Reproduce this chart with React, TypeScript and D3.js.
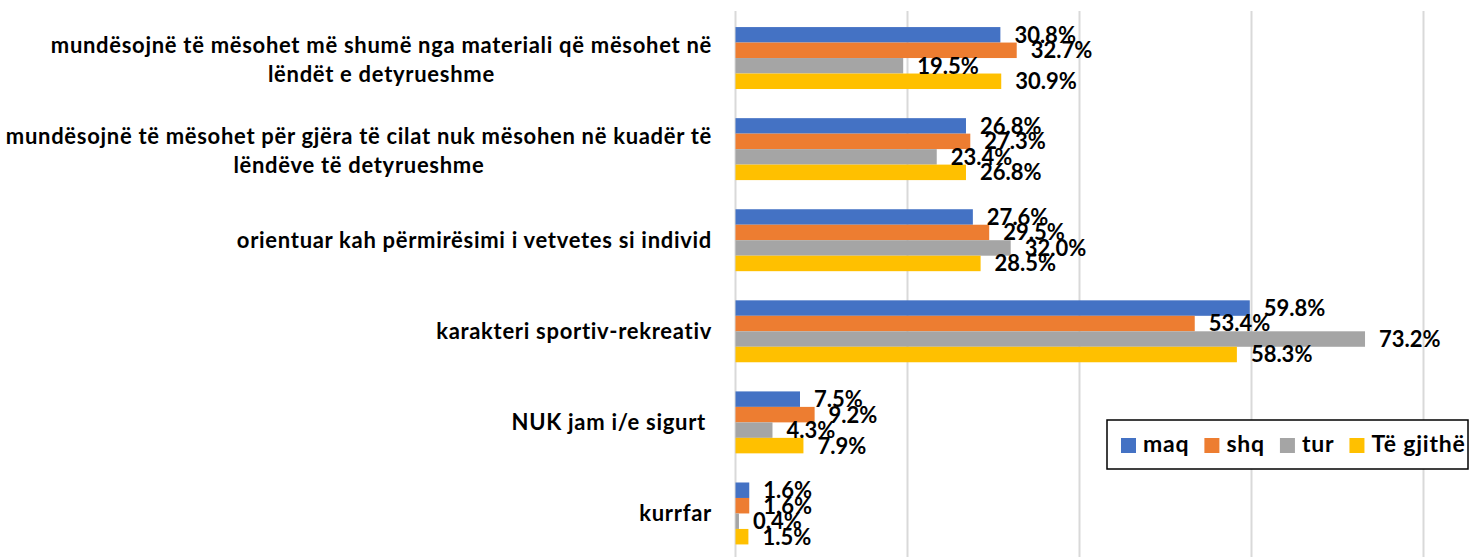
import React, { useEffect, useRef } from "react";
import * as d3 from "d3";

const categories = [
  "mundësojnë të mësohet më shumë nga materiali që mësohet në\nlëndët e detyrueshme",
  "mundësojnë të mësohet për gjëra të cilat nuk mësohen në kuadër të\nlëndëve të detyrueshme",
  "orientuar kah përmirësimi i vetvetes si individ",
  "karakteri sportiv-rekreativ",
  "NUK jam i/e sigurt ",
  "kurrfar",
];
const seriesNames = ["maq", "shq", "tur", "Të gjithë"];
const maq = [30.8, 26.8, 27.6, 59.8, 7.5, 1.6];
const shq = [32.7, 27.3, 29.5, 53.4, 9.2, 1.6];
const tur = [19.5, 23.4, 32.0, 73.2, 4.3, 0.4];
const all = [30.9, 26.8, 28.5, 58.3, 7.9, 1.5];
const xTicks = [0, 20, 40, 60, 80];
const colors = ["#4472C4", "#ED7D31", "#A5A5A5", "#FFC000"];

const W = 1473;
const H = 557;
const FONT = "Lato, 'Open Sans', sans-serif";

export default function App() {
  const ref = useRef<SVGSVGElement>(null);
  useEffect(() => {
    const svg = d3.select(ref.current);
    svg.selectAll("*").remove();
    const seriesVals = [maq, shq, tur, all];
    const x = d3.scaleLinear().domain([0, 100]).range([735.5, 735.5 + 860]);
    const y = d3
      .scaleBand<number>()
      .domain(categories.map((_, i) => i))
      .range([12.5, 559])
      .paddingInner(0.32)
      .paddingOuter(0.16);
    const ys = d3
      .scaleBand<number>()
      .domain(seriesNames.map((_, i) => i))
      .range([0, y.bandwidth()]);

    // gridlines
    svg
      .append("g")
      .selectAll("line")
      .data(xTicks)
      .join("line")
      .attr("x1", (d) => x(d))
      .attr("x2", (d) => x(d))
      .attr("y1", 11)
      .attr("y2", H)
      .attr("stroke", "#D9D9D9")
      .attr("stroke-width", 2);

    // bars
    const g = svg.append("g");
    categories.forEach((_, ci) => {
      seriesVals.forEach((vals, si) => {
        const y0 = (y(ci) as number) + (ys(si) as number);
        g.append("rect")
          .attr("x", x(0))
          .attr("y", y0)
          .attr("width", x(vals[ci]) - x(0))
          .attr("height", ys.bandwidth())
          .attr("fill", colors[si]);
      });
    });
    // labels
    categories.forEach((_, ci) => {
      seriesVals.forEach((vals, si) => {
        const y0 = (y(ci) as number) + (ys(si) as number) + ys.bandwidth() / 2;
        g.append("text")
          .attr("x", x(vals[ci]) + 14)
          .attr("y", y0)
          .attr("dy", "0.36em")
          .attr("font-family", FONT)
          .attr("font-weight", "bold")
          .attr("font-size", 22)
          .attr("fill", "#000")
          .text(vals[ci].toFixed(1) + "%");
      });
    });

    // category labels
    const right = 712;
    const labelText = (sel: any) =>
      sel
        .attr("font-family", FONT)
        .attr("font-weight", "bold")
        .attr("font-size", 22)
        .attr("letter-spacing", 0.7)
        .attr("fill", "#000");
    categories.forEach((c, ci) => {
      const lines = c.split("\n");
      const cy = (y(ci) as number) + y.bandwidth() / 2;
      if (lines.length === 1) {
        svg
          .append("text")
          .attr("x", right)
          .attr("y", cy + 8)
          .attr("text-anchor", "end")
          .call(labelText)
          .style("white-space", "pre")
          .text(lines[0]);
      } else {
        const t1 = svg
          .append("text")
          .attr("x", right)
          .attr("y", cy - 5)
          .attr("text-anchor", "end")
          .call(labelText)
          .text(lines[0]);
        const w1 = (t1.node() as SVGTextElement).getComputedTextLength();
        svg
          .append("text")
          .attr("x", right - w1 / 2)
          .attr("y", cy + 24)
          .attr("text-anchor", "middle")
          .call(labelText)
          .text(lines[1]);
      }
    });

    // legend
    const lg = svg.append("g");
    lg.append("rect")
      .attr("x", 1107)
      .attr("y", 420)
      .attr("width", 361)
      .attr("height", 49)
      .attr("fill", "#fff")
      .attr("stroke", "#000")
      .attr("stroke-width", 1.5);
    let lx = 1121;
    seriesNames.forEach((n, i) => {
      lg.append("rect")
        .attr("x", lx)
        .attr("y", 438)
        .attr("width", 15)
        .attr("height", 15)
        .attr("fill", colors[i]);
      const t = lg
        .append("text")
        .attr("x", lx + 22)
        .attr("y", 452)
        .attr("font-family", FONT)
        .attr("font-weight", "bold")
        .attr("font-size", 23)
        .attr("letter-spacing", 0.8)
        .text(n);
      const w = (t.node() as SVGTextElement).getComputedTextLength();
      lx = lx + 22 + w + 15;
    });
  }, []);
  return (
    <svg
      ref={ref}
      width={W}
      height={H}
      style={{ position: "absolute", left: 0, top: 0, background: "#fff" }}
    />
  );
}
